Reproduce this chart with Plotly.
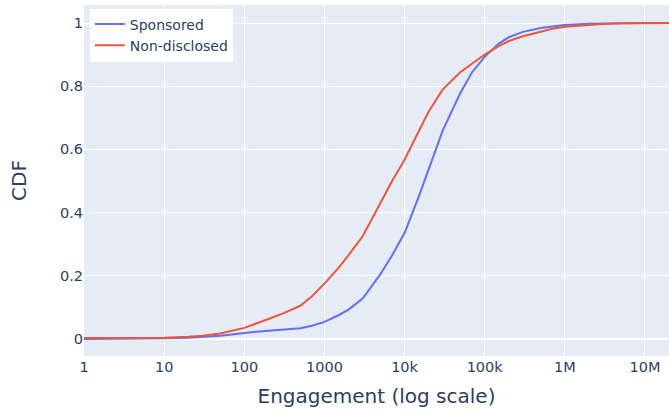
import plotly.graph_objects as go

# engagement values (log-spaced sample points)
engagement = [1, 2, 3, 5, 7, 10, 20, 30, 50, 70, 100, 200, 300, 500, 700, 1000, 1500,
              2000, 3000, 5000, 7000, 10000, 15000, 20000, 30000, 50000, 70000, 100000,
              150000, 200000, 300000, 500000, 700000, 1e6, 2e6, 3e6, 5e6, 1e7, 2e7]

cdf_sponsored = [0.0, 0.0, 0.0, 0.001, 0.001, 0.002, 0.004, 0.006, 0.01, 0.014, 0.019,
                 0.026, 0.03, 0.034, 0.042, 0.054, 0.075, 0.093, 0.128, 0.205, 0.265,
                 0.335, 0.45, 0.54, 0.66, 0.78, 0.845, 0.893, 0.935, 0.955, 0.972, 0.984,
                 0.99, 0.994, 0.998, 0.999, 1.0, 1.0, 1.0]

cdf_nondisclosed = [0.003, 0.003, 0.003, 0.003, 0.003, 0.004, 0.007, 0.01, 0.017, 0.025,
                    0.035, 0.063, 0.08, 0.105, 0.135, 0.175, 0.225, 0.265, 0.325, 0.43,
                    0.50, 0.567, 0.655, 0.72, 0.79, 0.845, 0.872, 0.90, 0.927, 0.943,
                    0.958, 0.972, 0.982, 0.988, 0.995, 0.997, 0.999, 1.0, 1.0]

fig = go.Figure()
fig.add_trace(go.Scatter(x=engagement, y=cdf_sponsored, mode="lines", name="Sponsored",
                         line=dict(color="#636efa", width=2)))
fig.add_trace(go.Scatter(x=engagement, y=cdf_nondisclosed, mode="lines", name="Non-disclosed",
                         line=dict(color="#EF553B", width=2)))

fig.update_layout(
    template="plotly",
    width=669, height=413,
    margin=dict(l=84, r=0, t=5, b=57),
    font=dict(family="DejaVu Sans", size=14),
    legend=dict(x=0.01, y=0.99, bgcolor="white"),
    xaxis=dict(type="log", range=[0, 7.3], dtick=1, automargin=False,
               tickfont=dict(size=14.5),
               title=dict(text="Engagement (log scale)", font=dict(size=20))),
    yaxis=dict(range=[-0.054, 1.057], dtick=0.2, automargin=True,
               tickfont=dict(size=14.5),
               title=dict(text="CDF", font=dict(size=20), standoff=27)),
)

# page has a default body margin; drop it so the figure sits at the corner
fig.write_html("out.html", config={"displayModeBar": False},
               post_script="document.body.style.margin='0';")
